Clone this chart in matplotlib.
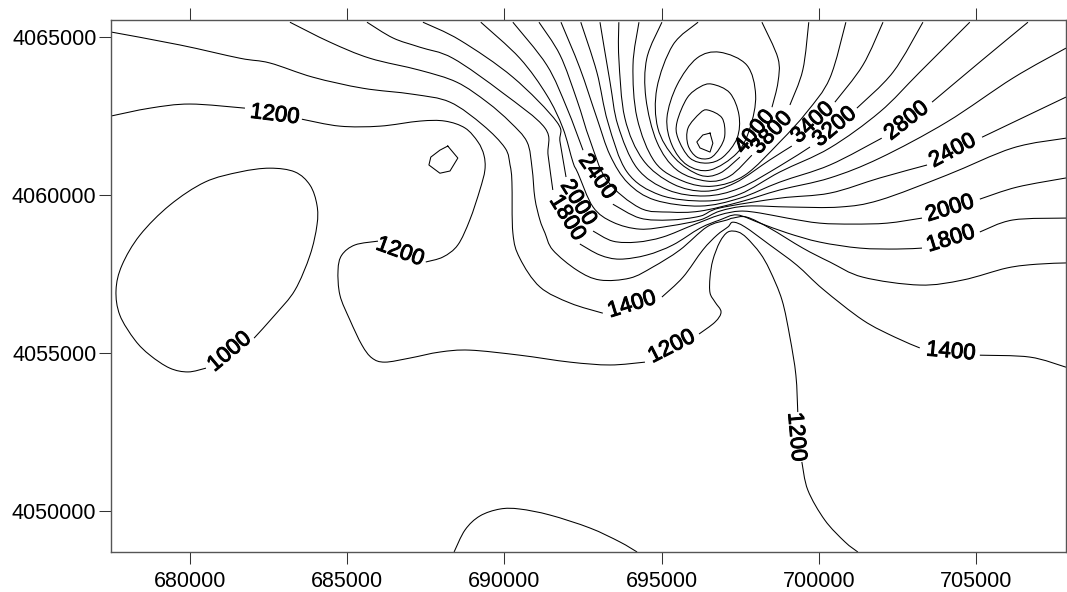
import numpy as np
import matplotlib
matplotlib.use('Agg')
import matplotlib.pyplot as plt
import matplotlib.patheffects as pe
from matplotlib.path import Path
from matplotlib.patches import PathPatch

plt.rcParams['font.family'] = ['Liberation Sans', 'DejaVu Sans']

# contour lines, (easting km, northing km), broken at the labels
c1000_loop = [(682.04,4055.47),(682.70,4056.20),(683.34,4056.99),(683.82,4058.10),(684.04,4059.05),(684.04,4059.68),
              (683.82,4060.31),(683.34,4060.73),(682.54,4060.85),(681.59,4060.73),(680.48,4060.41),(679.36,4059.68),
              (678.41,4058.73),(677.84,4057.78),(677.65,4056.99),(677.77,4056.20),(678.25,4055.41),(678.73,4054.93),
              (679.36,4054.52),(679.94,4054.40),(680.51,4054.52)]
c1000_south = [(688.40,4048.70),(688.75,4049.40),(689.22,4049.84),(689.86,4050.06),(690.49,4050.06),(691.45,4049.87),
               (692.72,4049.46),(693.67,4049.02),(694.22,4048.70)]
c1200_a = [(677.49,4062.50),(678.73,4062.75),(680.00,4062.88),(681.75,4062.75)]
c1200_b = [(683.56,4062.40),(684.77,4062.18),(686.04,4062.18),(687.31,4062.34),(688.11,4062.34),(688.75,4062.12),
           (689.16,4061.68),(689.35,4061.26),(689.38,4060.79),(689.22,4060.16),(688.90,4059.21),(688.52,4058.42),
           (688.05,4058.04),(687.50,4057.88)]
c1200_c = [(685.98,4058.54),(685.25,4058.42),(684.83,4058.10),(684.71,4057.62),(684.77,4056.83),(685.09,4056.04),
           (685.47,4055.25),(685.79,4054.84),(686.20,4054.71),(687.00,4054.84),(687.95,4055.03),(688.90,4055.09),
           (690.49,4054.93),(692.09,4054.71),(693.36,4054.62),(694.47,4054.71)]
c1200_d = [(696.19,4055.60),(696.70,4055.98),(696.89,4056.30),(696.70,4056.61),(696.54,4056.90),(696.54,4057.40),
           (696.63,4057.94),(696.85,4058.51),(697.11,4058.83),(697.43,4058.83),(697.71,4058.64),(698.13,4058.16),
           (698.44,4057.62),(698.83,4056.67),(699.08,4055.50),(699.27,4054.30),(699.33,4053.13)]
c1200_e = [(699.46,4051.55),(699.65,4050.66),(700.19,4049.71),(700.83,4049.02),(701.24,4048.70)]
c1200_spot = [(688.20,4061.55),(688.52,4061.17),(688.27,4060.76),(687.95,4060.69),(687.60,4060.95),(687.66,4061.20),
              (687.95,4061.42),(688.20,4061.55)]
c1400_a = [(677.49,4065.16),(679.68,4064.75),(681.59,4064.33),(682.54,4064.18),(683.91,4063.73),(685.50,4063.38),
           (687.09,4063.19),(688.27,4062.94),(689.32,4062.21),(690.02,4061.49),(690.18,4060.95),(690.24,4060.41),
           (690.27,4058.80),(690.49,4058.00),(691.13,4057.09),(692.09,4056.58),(693.13,4056.26)]
c1400_b = [(695.01,4056.77),(695.68,4057.40),(696.31,4058.26),(696.76,4058.73),(697.11,4058.99),(697.27,4059.14),
           (697.65,4058.99),(698.44,4058.42),(699.30,4057.78),(700.13,4057.02),(701.40,4056.04),(702.42,4055.50),
           (703.21,4055.16)]
c1400_c = [(705.12,4054.93),(706.71,4054.87),(707.86,4054.55)]
c1600 = [(683.18,4065.47),(684.45,4064.84),(685.72,4064.33),(687.31,4063.95),(688.49,4063.57),(689.45,4062.94),
         (690.18,4062.31),(690.72,4061.68),(690.88,4060.85),(690.97,4059.90),(691.13,4059.21),(691.29,4058.80),
         (691.54,4058.26),(692.31,4057.62),(693.04,4057.31),(693.99,4057.37),(694.72,4057.72),(695.58,4058.26),
         (696.44,4058.99),(697.08,4059.21),(697.27,4059.27),(697.71,4059.30),(698.44,4058.95),(699.49,4058.32),
         (700.35,4057.88),(701.40,4057.40),(703.21,4057.15),(704.58,4057.31),(705.98,4057.69),(706.93,4057.81),
         (707.86,4057.85)]
c1800_a = [(685.63,4065.47),(686.46,4064.97),(687.31,4064.68),(688.36,4064.33),(689.95,4063.23),(691.29,4062.12),
           (691.39,4061.26),(691.54,4060.16)]
c1800_b = [(692.40,4058.45),(693.04,4058.10),(693.67,4057.97),(694.53,4058.10),(695.36,4058.42),(696.22,4058.95),
           (696.85,4059.21),(697.40,4059.37),(698.13,4059.11),(698.99,4058.80),(700.03,4058.51),(701.31,4058.32),
           (702.48,4058.29),(703.28,4058.32)]
c1800_c = [(705.12,4058.83),(706.17,4059.21),(707.86,4059.27)]
c2000_a = [(687.41,4065.47),(688.59,4064.90),(690.27,4063.73),(691.67,4062.31),(691.77,4061.68),(691.96,4060.57)]
c2000_b = [(692.82,4058.86),(693.45,4058.54),(694.22,4058.51),(695.04,4058.67),(696.00,4059.05),(696.85,4059.37),
           (697.49,4059.49),(698.13,4059.43),(698.99,4059.27),(700.03,4059.11),(701.08,4059.08),(702.17,4059.11),
           (703.28,4059.27)]
c2000_c = [(705.12,4059.87),(706.30,4060.25),(707.86,4060.54)]
c2200 = [(689.25,4065.47),(690.49,4064.33),(691.35,4063.16),(691.86,4062.12),(692.18,4061.04),(692.34,4060.69),
         (692.82,4059.62),(693.45,4059.14),(694.31,4058.92),(695.26,4059.02),(696.22,4059.21),(696.85,4059.49),
         (697.71,4059.65),(699.08,4059.62),(700.67,4059.62),(701.94,4059.84),(704.07,4060.63),(706.17,4061.49),
         (707.86,4061.80)]
c2400_a = [(690.27,4065.47),(691.35,4064.11),(691.99,4062.75),(692.50,4061.42)]
c2400_b = [(693.45,4059.71),(694.31,4059.27),(695.26,4059.21),(696.22,4059.33),(696.85,4059.59),(698.76,4059.90),
           (700.35,4060.06),(701.94,4060.54),(703.44,4060.95)]
c2400_c = [(705.19,4061.83),(707.86,4063.10)]
c2600 = [(691.10,4065.47),(691.77,4064.43),(692.31,4063.00),(692.72,4061.74),(693.26,4060.47),(694.31,4059.59),
         (695.26,4059.46),(696.22,4059.49),(697.49,4059.78),(698.76,4060.16),(700.35,4060.54),(701.94,4061.17),
         (704.07,4062.31),(706.17,4063.70),(707.86,4064.65)]
c2800_a = [(691.80,4065.47),(692.40,4064.02),(692.94,4062.44),(693.36,4061.26),(693.93,4060.38),(694.79,4059.84),
           (696.22,4059.65),(697.49,4059.90),(698.76,4060.41),(700.35,4060.95),(702.00,4061.80)]
c2800_b = [(703.60,4062.94),(705.12,4064.21),(706.65,4065.47)]
c3000 = [(692.43,4065.47),(692.94,4063.89),(693.29,4062.31),(693.90,4060.73),(694.95,4060.00),(696.38,4059.81),
         (697.49,4060.03),(698.76,4060.73),(700.35,4061.49),(701.94,4062.63),(703.21,4063.89),(704.80,4065.47)]
c3200_a = [(693.04,4065.47),(693.36,4063.57),(693.61,4062.21),(694.22,4060.85),(695.20,4060.16),(696.38,4059.97),
           (697.49,4060.22),(698.76,4060.92),(699.72,4061.52)]
c3200_b = [(701.21,4062.75),(702.36,4063.89),(703.31,4065.47)]
c3400_a = [(693.64,4065.47),(693.64,4064.33),(693.83,4062.44),(694.41,4061.11),(695.36,4060.35),(696.38,4060.12),
           (697.33,4060.38),(698.44,4061.11),(699.14,4061.55)]
c3400_b = [(700.51,4062.94),(701.40,4064.11),(702.04,4065.47)]
c3600 = [(694.28,4065.47),(694.09,4064.11),(694.22,4062.44),(694.79,4061.04),(695.68,4060.44),(696.63,4060.28),
         (697.65,4060.63),(698.76,4061.68),(699.62,4062.63),(700.35,4063.70),(700.86,4065.47)]
c3800_a = [(695.01,4065.47),(694.53,4064.33),(694.50,4063.07),(694.85,4061.68),(695.49,4060.79),(696.44,4060.44),
           (697.17,4060.60),(697.87,4061.26)]
c3800_b = [(699.08,4062.85),(699.49,4063.96),(699.68,4065.47)]
c4000_a = [(696.16,4065.47),(695.36,4064.75),(694.85,4063.38),(694.88,4062.12),(695.42,4061.17),(696.22,4060.63),
           (696.85,4060.69),(697.49,4061.20)]
c4000_b = [(698.51,4062.78),(698.70,4063.57),(698.70,4064.33),(698.19,4065.47)]
c4200 = [(696.85,4064.52),(697.71,4064.11),(697.99,4063.16),(697.81,4062.12),(697.40,4061.33),(696.54,4060.79),
         (695.81,4060.95),(695.33,4061.58),(695.17,4062.44),(695.49,4063.48),(696.12,4064.33),(696.85,4064.52)]
c4400 = [(696.60,4063.51),(697.17,4063.23),(697.46,4062.53),(697.40,4061.80),(696.95,4061.20),(696.44,4061.01),
         (695.90,4061.17),(695.52,4061.80),(695.49,4062.31),(695.81,4063.07),(696.22,4063.42),(696.60,4063.51)]
c4600 = [(696.47,4062.69),(696.92,4062.44),(697.01,4061.90),(696.85,4061.49),(696.54,4061.17),(696.12,4061.20),
         (695.84,4061.58),(695.84,4062.12),(696.22,4062.59),(696.47,4062.69)]
c4800 = [(696.54,4061.96),(696.63,4061.64),(696.54,4061.36),(696.22,4061.49),(696.12,4061.68),(696.31,4061.90),
         (696.54,4061.96)]

smooth_lines = [c1000_loop, c1000_south, c1200_a, c1200_b, c1200_c, c1200_d, c1200_e, c1400_a, c1400_b, c1400_c,
                c1600, c1800_a, c1800_b, c1800_c, c2000_a, c2000_b, c2000_c, c2200, c2400_a, c2400_b, c2400_c,
                c2600, c2800_a, c2800_b, c3000, c3200_a, c3200_b, c3400_a, c3400_b, c3600, c3800_a, c3800_b,
                c4000_a, c4000_b, c4200, c4400, c4600]
angular_lines = [c1200_spot, c4800]

# contour labels
label_text = ['1200','1000','1200','1200','1400','1400','1200','1800','2000','2400',
              '4000','3800','3400','3200','2800','2400','2000','1800']
label_east = [682.70,681.27,686.68,695.33,694.06,704.20,699.27,691.99,692.34,692.94,
              697.97,698.51,699.81,700.51,702.80,704.26,704.17,704.20]
label_north = [4062.53,4055.03,4058.19,4055.19,4056.52,4055.03,4052.34,4059.27,4059.75,4060.57,
               4061.99,4061.96,4062.28,4062.15,4062.34,4061.39,4059.56,4058.60]
label_angle = [-7,40,-20,27,17,-5,-85,-58,-58,-55,50,47,43,40,38,28,17,17]

x_ticks = [680000,685000,690000,695000,700000,705000]
y_ticks = [4050000,4055000,4060000,4065000]


def curve_path(points):
    # bezier through the read points, so the line has no corners at them
    pts = np.array(points) * 1000.0
    closed = np.allclose(pts[0], pts[-1])
    verts = [pts[0]]
    codes = [Path.MOVETO]
    for i in range(len(pts) - 1):
        if i > 0:
            before = pts[i - 1]
        else:
            before = pts[-2] if closed else pts[0]
        if i + 2 < len(pts):
            after = pts[i + 2]
        else:
            after = pts[1] if closed else pts[-1]
        verts += [pts[i] + (pts[i + 1] - before) / 6.0, pts[i + 1] - (after - pts[i]) / 6.0, pts[i + 1]]
        codes += [Path.CURVE4, Path.CURVE4, Path.CURVE4]
    return Path(verts, codes)


fig = plt.figure(figsize=(10.67, 5.92), dpi=100)
ax = fig.add_axes([111 / 1067, 40 / 592, 955 / 1067, 532 / 592])
ax.set_xlim(677490, 707860)
ax.set_ylim(4048700, 4065540)

for line in smooth_lines:
    ax.add_patch(PathPatch(curve_path(line), fill=False, edgecolor='black', lw=0.75))
for line in angular_lines:
    pts = np.array(line) * 1000.0
    ax.plot(pts[:, 0], pts[:, 1], color='black', lw=0.75)

for txt, e, n, ang in zip(label_text, label_east, label_north, label_angle):
    t = ax.text(e * 1000, n * 1000, txt, fontsize=16, rotation=ang, rotation_mode='anchor',
                ha='center', va='center', color='black')
    t.set_path_effects([pe.withStroke(linewidth=0.7, foreground='black')])

ax.set_xticks(x_ticks)
ax.set_yticks(y_ticks)
ax.set_xticklabels([str(v) for v in x_ticks])
ax.set_yticklabels([str(v) for v in y_ticks])
ax.tick_params(axis='both', which='major', direction='out', length=8.5, width=0.75, labelsize=15.5,
               top=True, right=True, color='#333333', pad=2)
ax.tick_params(axis='x', pad=5)
for s in ax.spines.values():
    s.set_color('#555555')
    s.set_linewidth(1.0)

fig.savefig('out.png', dpi=100)
